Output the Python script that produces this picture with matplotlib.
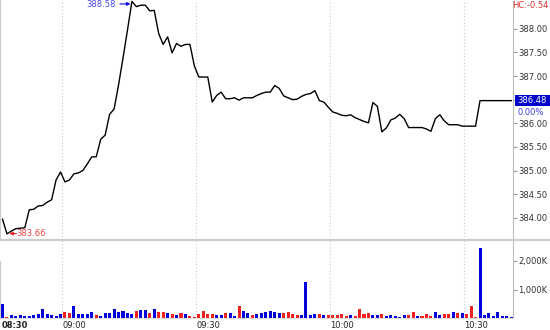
import matplotlib
matplotlib.use("Agg")
import matplotlib.pyplot as plt
import matplotlib.transforms as mtransforms
from matplotlib.lines import Line2D
from matplotlib.patches import Rectangle
import numpy as np


# one-minute bars, first bar at 08:46.6
start_minute = 8 * 60 + 46.6

price = [
    383.97, 383.66, 383.72, 383.77, 383.78, 383.79, 384.17, 384.18, 384.25, 384.26,
    384.33, 384.38, 384.80, 384.97, 384.76, 384.80, 384.93, 384.95, 385.00, 385.14,
    385.29, 385.29, 385.66, 385.75, 386.19, 386.30, 386.81, 387.38, 387.97, 388.58,
    388.47, 388.50, 388.50, 388.38, 388.39, 387.90, 387.67, 387.83, 387.49, 387.69,
    387.63, 387.67, 387.67, 387.21, 386.98, 386.98, 386.98, 386.45, 386.59, 386.66,
    386.52, 386.52, 386.54, 386.49, 386.54, 386.54, 386.54, 386.59, 386.63, 386.66,
    386.66, 386.80, 386.74, 386.58, 386.54, 386.50, 386.51, 386.57, 386.61, 386.63,
    386.69, 386.48, 386.45, 386.34, 386.24, 386.21, 386.17, 386.16, 386.18, 386.12,
    386.08, 386.04, 386.01, 386.44, 386.36, 385.82, 385.90, 386.07, 386.11, 386.19,
    386.10, 385.91, 385.91, 385.91, 385.91, 385.88, 385.83, 386.10, 386.18, 386.05,
    385.97, 385.97, 385.97, 385.94, 385.94, 385.94, 385.94, 386.48, 386.48, 386.48,
    386.48, 386.48, 386.48, 386.48, 386.48,
]

# volume in thousands
volume_k = [
    503, 50, 117, 82, 117, 82, 82, 129, 152, 340,
    140, 117, 82, 152, 234, 199, 433, 140, 140, 164,
    222, 117, 82, 175, 175, 316, 222, 257, 175, 152,
    257, 281, 281, 199, 340, 222, 222, 175, 152, 105,
    199, 140, 82, 58, 152, 246, 164, 140, 105, 105,
    175, 175, 70, 433, 246, 175, 105, 152, 199, 222,
    257, 234, 187, 199, 211, 140, 105, 129, 1251, 105,
    164, 140, 105, 105, 105, 129, 164, 82, 117, 82,
    340, 164, 187, 105, 105, 140, 70, 129, 82, 58,
    105, 117, 222, 82, 82, 140, 82, 222, 129, 152,
    140, 234, 175, 199, 152, 433, 47, 2456, 117, 187,
    70, 234, 94, 82, 35,
]

# B = up bar, R = down bar
bar_side = ("BRBBBBBBBB" "BBBBRRBBBB" "BRBBBBBBBB" "RBBRBRRBRB"
            "RBRRRRRRBB" "RBBRBBRBBB" "BBBRRRRBBB" "BRBRRRRRBR"
            "RRRBBRBBBB" "BRRBRRRBBR" "RBRBRRRBBB" "BBBBB")

session_label = "08:30"
time_labels = ["09:00", "09:30", "10:00", "10:30"]
price_ticks = [384.0, 384.5, 385.0, 385.5, 386.0, 386.5, 387.0, 387.5, 388.0]
volume_ticks = [1000, 2000]
volume_tick_labels = ["1,000K", "2,000K"]
change_label = "0.00%"
hc_label = "HC:-0.54"

W, H = 550, 330
BLUE = "#0000dd"
RED = "#ee2020"
GRID = "#c8c8c8"


def fx(px):
    return px / W


def fy(py):
    return 1 - py / H


t = start_minute + np.arange(len(price))
grid_minutes = [int(s[:2]) * 60 + int(s[3:]) for s in time_labels]
xlim = (526.04, 640.99)
last = price[-1]

fig = plt.figure(figsize=(5.5, 3.3), dpi=100)
ax = fig.add_axes([0, fy(240), fx(513), 240 / H])
axv = fig.add_axes([0, fy(318.3), fx(513), 78.3 / H])

# price line
ax.plot(t, price, color="black", lw=1.0)
ax.set_xlim(*xlim)
ax.set_ylim(383.53, 388.61)

# volume bars
colors = [BLUE if s == "B" else RED for s in bar_side]
axv.bar(t, volume_k, width=0.68, color=colors, linewidth=0)
axv.set_xlim(*xlim)
axv.set_ylim(0, 2719)

for a in (ax, axv):
    a.set_xticks(grid_minutes)
    a.grid(axis="x", color=GRID, linestyle=(0, (1, 2)), lw=0.8)
    a.yaxis.tick_right()
    a.tick_params(axis="y", length=3, width=0.8, color="#999999", pad=1,
                  labelsize=6, labelcolor="#333333")
    a.spines["top"].set_visible(False)
    a.spines["right"].set_color("#bbbbbb")
    a.spines["right"].set_linestyle((0, (1, 1)))
    a.spines["left"].set_color("#cccccc")
    a.spines["left"].set_linewidth(1.5)
    a.set_facecolor("white")

ax.spines["bottom"].set_visible(False)
ax.tick_params(axis="x", length=0, labelbottom=False)
# the tick label hidden behind the last-price box is left blank
ax.set_yticks(price_ticks,
              labels=["" if abs(v - last) < 0.15 else f"{v:.2f}" for v in price_ticks])

axv.spines["bottom"].set_color("#dddddd")
axv.spines["left"].set_bounds(0, 1960)
axv.set_yticks(volume_ticks, labels=volume_tick_labels)
axv.set_xticks(grid_minutes, labels=time_labels)
axv.tick_params(axis="x", length=0, pad=2, labelsize=6, labelcolor="#222222")
for lbl in axv.get_xticklabels():
    lbl.set_ha("left")
fig.text(fx(1.5), fy(325), session_label, fontsize=6, fontweight="bold",
         color="#222222", ha="left", va="center")

# panel separator
fig.add_artist(Line2D([0, 1], [fy(240), fy(240)], transform=fig.transFigure,
                      color="#cccccc", lw=1.6))

# high / low markers
i_hi = int(np.argmax(price))
i_lo = int(np.argmin(price))
hi, lo = price[i_hi], price[i_lo]


def shifted(dx, dy):
    return mtransforms.offset_copy(ax.transData, fig=fig, x=dx, y=dy, units="dots")


ax.annotate("", xy=(t[i_hi], hi), xycoords=shifted(-1.5, -2.5),
            xytext=(t[i_hi], hi), textcoords=shifted(-12, -2.5),
            arrowprops=dict(arrowstyle="-|>", color=BLUE, lw=0.8,
                            mutation_scale=5, shrinkA=0, shrinkB=0))
ax.text(t[i_hi], hi, f"{hi:.2f}", transform=shifted(-16, -3), ha="right",
        va="center", fontsize=6, color="#4a4ae6")

ax.annotate("", xy=(t[i_lo], lo), xycoords=shifted(2.3, 0.3),
            xytext=(t[i_lo], lo), textcoords=shifted(9.5, 0.3),
            arrowprops=dict(arrowstyle="-|>", color=RED, lw=0.8,
                            mutation_scale=5, shrinkA=0, shrinkB=0))
ax.text(t[i_lo], lo, f"{lo:.2f}", transform=shifted(9.7, 0.3), ha="left",
        va="center", fontsize=6, color="#e84040")

# right side labels
fig.text(fx(512), fy(5), hc_label, fontsize=6, color="#e03030", ha="left", va="center")
last_y = ax.transData.transform((t[-1], last))[1]
last_py = H - last_y
fig.add_artist(Rectangle((fx(515), fy(last_py + 5)), fx(35), 10.5 / H,
                         transform=fig.transFigure, facecolor="#0000cc",
                         edgecolor="none"))
fig.text(fx(517), fy(last_py), f"{last:.2f}", fontsize=6, color="white",
         ha="left", va="center")
fig.text(fx(517), fy(last_py + 11.5), change_label, fontsize=6, color="#3a3ad8",
         ha="left", va="center")

fig.savefig("out.png", dpi=100)
